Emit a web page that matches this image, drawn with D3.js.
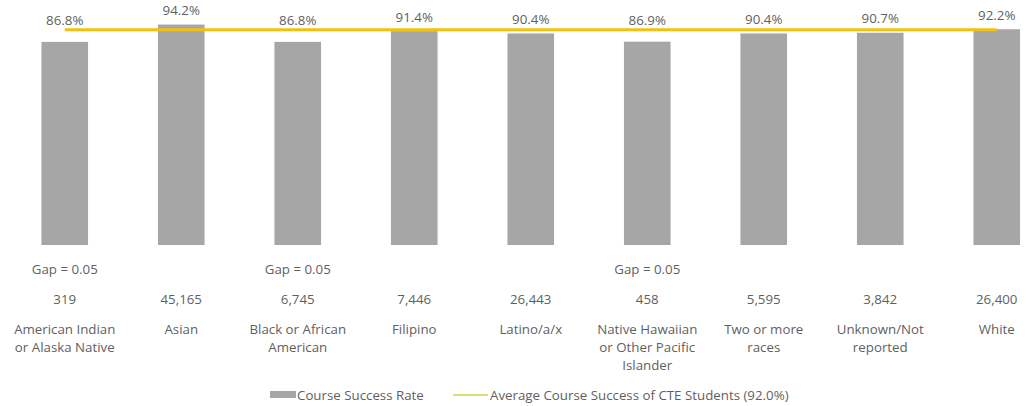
<!DOCTYPE html>
<html>
<head>
<meta charset="utf-8">
<script src="https://cdn.jsdelivr.net/npm/d3@7"></script>
<style>
  html, body { margin: 0; padding: 0; background: #fff; }
  svg { display: block; font-family: "Open Sans", "Liberation Sans", sans-serif; }
  text { fill: #5f5f5f; }
</style>
</head>
<body>
<svg id="chart" width="1032" height="406"></svg>
<script>
// Course success rate by race/ethnicity, with the CTE average as a reference line
const categories = [
  ["American Indian", "or Alaska Native"],
  ["Asian"],
  ["Black or African", "American"],
  ["Filipino"],
  ["Latino/a/x"],
  ["Native Hawaiian", "or Other Pacific", "Islander"],
  ["Two or more", "races"],
  ["Unknown/Not", "reported"],
  ["White"]
];
const successRate = [86.8, 94.2, 86.8, 91.4, 90.4, 86.9, 90.4, 90.7, 92.2];
const averageRate = 92.0;
const enrollments = ["319", "45,165", "6,745", "7,446", "26,443", "458", "5,595", "3,842", "26,400"];
const gapLabels = ["Gap = 0.05", "", "Gap = 0.05", "", "", "Gap = 0.05", "", "", ""];
const legendLabels = ["Course Success Rate", "Average Course Success of CTE Students (92.0%)"];

const svg = d3.select("#chart");
const keys = d3.range(categories.length);
const fontSize = 13.3;

const x = d3.scaleBand()
  .domain(keys)
  .range([6.5, 1055])
  .paddingInner(0.6)
  .paddingOuter(0.3);

const y = d3.scaleLinear().domain([0, 100]).range([245, 11]);

const barColor = "#a6a6a6";
const lineColor = "#f2c10f";

// bars
svg.append("g")
  .selectAll("rect")
  .data(successRate)
  .join("rect")
  .attr("x", (d, i) => x(i))
  .attr("y", d => y(d))
  .attr("width", x.bandwidth())
  .attr("height", d => y(0) - y(d))
  .attr("fill", barColor);

// average line across category centres
const cx = i => x(i) + x.bandwidth() / 2;
const line = d3.line().x(d => cx(d)).y(() => y(averageRate));
svg.append("path")
  .datum(keys)
  .attr("d", line)
  .attr("fill", "none")
  .attr("stroke", lineColor)
  .attr("stroke-width", 3);

// value labels, kept clear of the average line
svg.append("g")
  .selectAll("text")
  .data(successRate)
  .join("text")
  .attr("x", (d, i) => cx(i))
  .attr("y", d => Math.min(y(d) - 14, y(averageRate) - 9))
  .attr("dy", "0.35em")
  .attr("text-anchor", "middle")
  .attr("font-size", fontSize)
  .text(d => d.toFixed(1) + "%");

// gap annotations
svg.append("g")
  .selectAll("text")
  .data(gapLabels)
  .join("text")
  .attr("x", (d, i) => cx(i))
  .attr("y", 269)
  .attr("dy", "0.35em")
  .attr("text-anchor", "middle")
  .attr("font-size", fontSize)
  .text(d => d);

// enrollment counts
svg.append("g")
  .selectAll("text")
  .data(enrollments)
  .join("text")
  .attr("x", (d, i) => cx(i))
  .attr("y", 299)
  .attr("dy", "0.35em")
  .attr("text-anchor", "middle")
  .attr("font-size", fontSize)
  .text(d => d);

// category labels
const cat = svg.append("g")
  .selectAll("text")
  .data(categories)
  .join("text")
  .attr("x", (d, i) => cx(i))
  .attr("y", 329)
  .attr("text-anchor", "middle")
  .attr("font-size", fontSize);
cat.selectAll("tspan")
  .data(d => d)
  .join("tspan")
  .attr("x", function () { return d3.select(this.parentNode).attr("x"); })
  .attr("dy", (d, j) => j === 0 ? "0.35em" : "18px")
  .text(d => d);

// legend
const legend = svg.append("g").attr("font-size", fontSize);
legend.append("rect")
  .attr("x", 270).attr("y", 391).attr("width", 26).attr("height", 7)
  .attr("fill", barColor);
legend.append("text")
  .attr("x", 297).attr("y", 395).attr("dy", "0.35em")
  .text(legendLabels[0]);
legend.append("line")
  .attr("x1", 453).attr("x2", 488).attr("y1", 395).attr("y2", 395)
  .attr("stroke", "#c9d64a").attr("stroke-width", 1.5);
legend.append("text")
  .attr("x", 490).attr("y", 395).attr("dy", "0.35em")
  .text(legendLabels[1]);
</script>
</body>
</html>
